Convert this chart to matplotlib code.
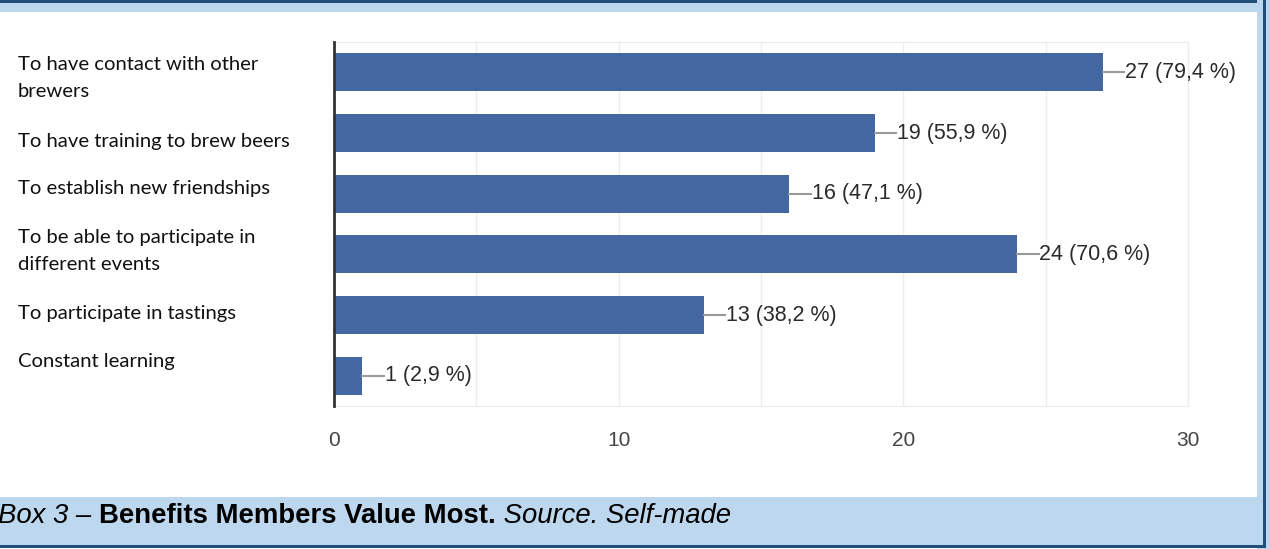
import matplotlib.pyplot as plt
from matplotlib.patches import Rectangle

categories = [
    "To have contact with other\nbrewers",
    "To have training to brew beers",
    "To establish new friendships",
    "To be able to participate in\ndifferent events",
    "To participate in tastings",
    "Constant learning",
]
counts = [27, 19, 16, 24, 13, 1]
percents = [79.4, 55.9, 47.1, 70.6, 38.2, 2.9]
xticks = [0, 10, 20, 30]

W, H = 1270, 549
fig = plt.figure(figsize=(W / 100, H / 100), dpi=100)
fig.patch.set_facecolor("white")

light = "#bdd7ee"
dark = "#1f4e79"


def px_rect(x0, y0, x1, y1, color):
    # rectangle given in pixel coords measured from the top-left corner
    fig.patches.append(Rectangle((x0 / W, 1 - y1 / H), (x1 - x0) / W, (y1 - y0) / H,
                                 transform=fig.transFigure, facecolor=color,
                                 edgecolor="none", zorder=0))


# frame around the chart and the caption band
px_rect(0, 0, W, 3, dark)
px_rect(0, 3, W, 12, light)
px_rect(1257, 0, W, H, light)
px_rect(1263, 0, 1266, 547, dark)
px_rect(0, 497, 1263, 545, light)
px_rect(0, 545, 1266, 548, dark)

ax = fig.add_axes([334 / W, 143 / H, 854 / W, 364 / H])
ypos = list(range(len(categories)))
ax.barh(ypos, counts, height=0.63, color="#4467a2", zorder=3)
ax.set_ylim(len(categories) - 0.5, -0.5)
ax.set_xlim(0, 30)

ax.set_xticks(range(0, 31, 5), minor=False)
ax.set_xticklabels([str(t) if t in xticks else "" for t in range(0, 31, 5)],
                   fontsize=15, color="#444444", family="Liberation Sans")
ax.tick_params(axis="x", length=0, pad=18)
ax.set_yticks([])
ax.grid(axis="x", color="#ececec", linewidth=1, zorder=0)
for side in ["top", "right", "bottom"]:
    ax.spines[side].set_color("#ececec")
ax.spines["left"].set_color("#333333")
ax.spines["left"].set_linewidth(2)
ax.spines["left"].set_zorder(5)

# value labels with a short leader line
for y, c, p in zip(ypos, counts, percents):
    ax.plot([c, c + 0.75], [y, y], color="#999999", linewidth=1.5, zorder=4)
    ax.text(c + 0.78, y, f"{c} ({p:.1f} %)".replace(".", ","), va="center", ha="left",
            fontsize=15.5, color="#2a2a2a", family="Liberation Sans")

# category labels on the left
label_y = [78, 141, 189, 251, 313, 362]
for lab, yy in zip(categories, label_y):
    fig.text(18 / W, 1 - yy / H, lab, ha="left", va="center", fontsize=14.6,
             family="Lato", color="#111111", linespacing=1.7)

# caption
cap_y = 1 - 516 / H
t1 = fig.text(-2 / W, cap_y, "Box 3 – ", fontsize=19.8, style="italic",
              family="Liberation Sans", va="center")
fig.canvas.draw()
r = fig.canvas.get_renderer()
x = t1.get_window_extent(r).x1
t2 = fig.text(x / W, cap_y, "Benefits Members Value Most.", fontsize=19.8,
              weight="bold", family="Liberation Sans", va="center")
x = t2.get_window_extent(r).x1
fig.text(x / W, cap_y, " Source. Self-made", fontsize=19.8, style="italic",
         family="Liberation Sans", va="center")

fig.savefig("out.png", dpi=100)
